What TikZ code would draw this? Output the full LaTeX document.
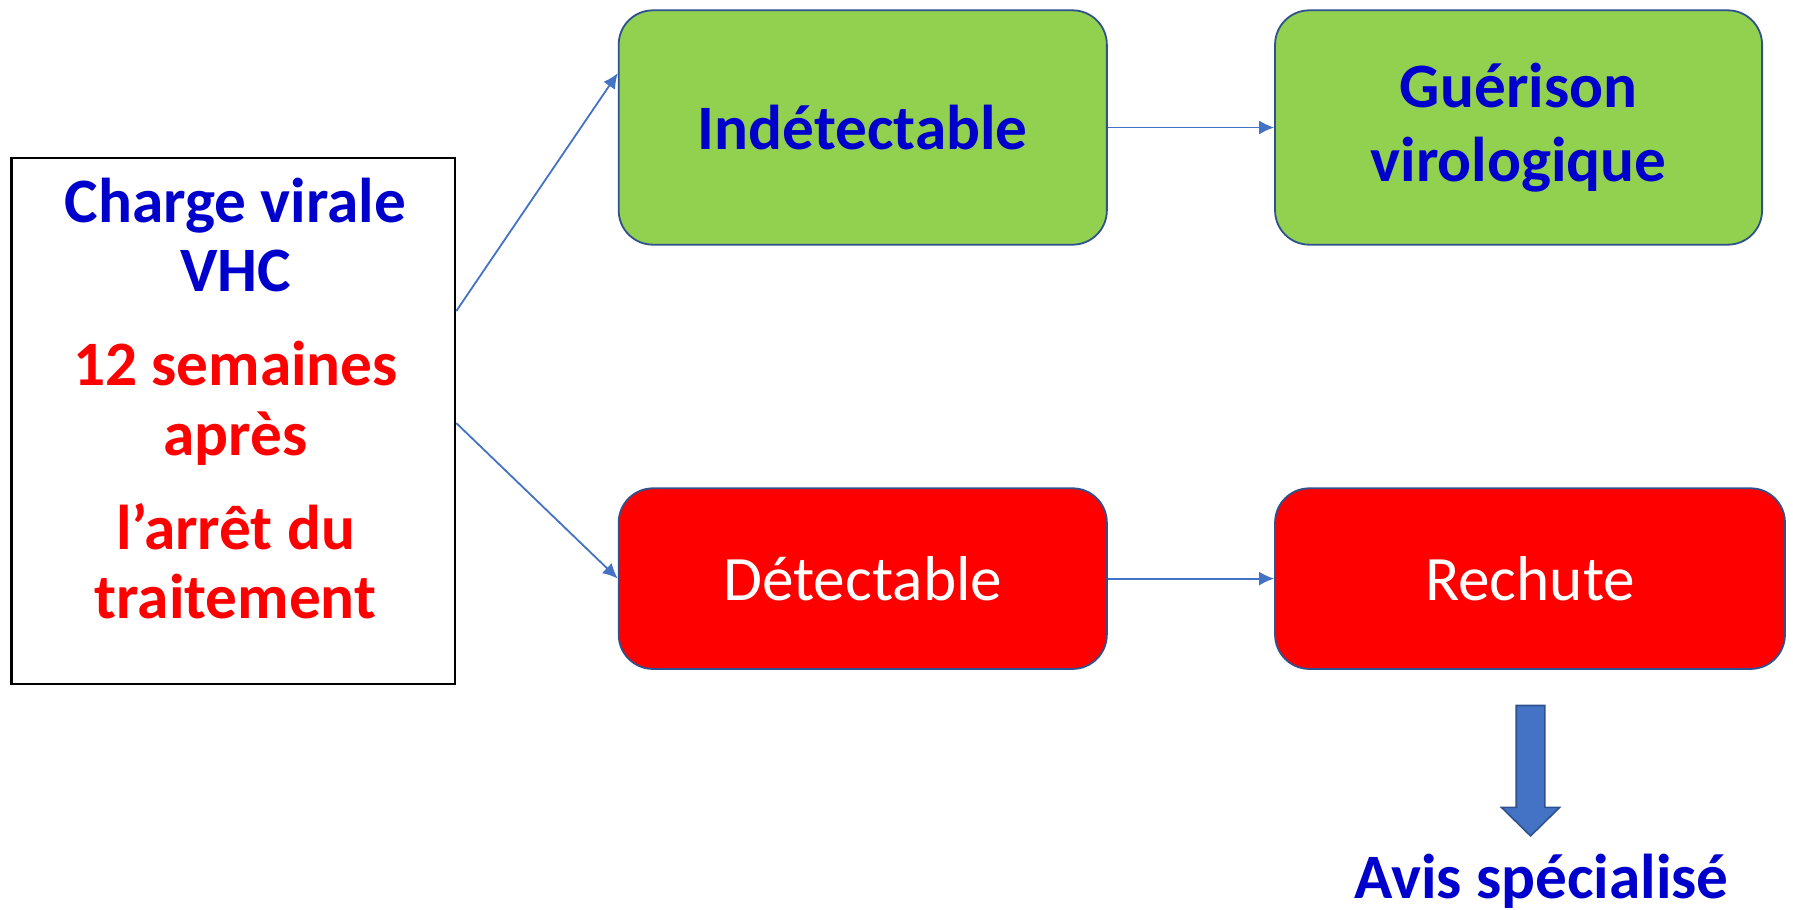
\documentclass[tikz,border=0pt]{standalone}
\usepackage{fontspec}
\setmainfont{Carlito}
\usepackage{xcolor}
\usetikzlibrary{positioning, arrows.meta}
\definecolor{vert}{HTML}{92D050}
\definecolor{rouge}{HTML}{FF0000}
\definecolor{bleutexte}{HTML}{0000CC}
\definecolor{bleufleche}{HTML}{4472C4}
\definecolor{bord}{HTML}{2F528F}

\begin{document}
\begin{tikzpicture}[x=0.02cm, y=-0.02cm,
  etat/.style={draw=bord, line width=0.9pt, rounded corners=0.6cm, align=center, inner sep=0pt},
  lien/.style={-{Latex[length=7.5pt,width=7pt]}, draw=bleufleche, line width=0.9pt},
  gras/.style={font=\fontsize{31.5}{36}\selectfont\bfseries, text=bleutexte}]
\useasboundingbox (0, 0) rectangle (1568, 795);
% boite de gauche
\node [draw, line width=1.2pt, minimum width=7.76cm, minimum height=9.2cm] (charge) at (204, 368) {};
\node [anchor=north, align=center, inner sep=0pt, font=\fontsize{31.5}{34.5}\selectfont\bfseries] (chargetxt) at (206, 155)
  {\textcolor{bleutexte}{Charge virale}\\\textcolor{bleutexte}{VHC}\\[0.44cm]
   \textcolor{rouge}{12 semaines}\\\textcolor{rouge}{après}\\[0.44cm]
   \textcolor{rouge}{l’arrêt du}\\\textcolor{rouge}{traitement}};
% etats
\node [etat, fill=vert, gras, minimum width=8.54cm, minimum height=4.1cm] (indet) at (754.5, 111.5) {Indétectable};
\node [etat, fill=vert, gras, minimum width=8.52cm, minimum height=4.1cm, font=\fontsize{31.5}{37}\selectfont\bfseries] (guer) at (1328, 111.5) {Guérison\\virologique};
\node [etat, fill=rouge, text=white, font=\fontsize{31.5}{36}\selectfont, minimum width=8.54cm, minimum height=3.16cm] (detect) at (754.5, 506) {Détectable};
\node [etat, fill=rouge, text=white, font=\fontsize{31.5}{36}\selectfont, minimum width=8.92cm, minimum height=3.16cm] (rechute) at (1338, 506) {Rechute};
\node [gras, anchor=base, inner sep=0pt] (avis) at (1348, 786) {Avis spécialisé};
% fleches
\draw [lien] ([yshift=1.92cm]charge.east) -- ([yshift=0.95cm]indet.west);
\draw [lien] ([yshift=-0.04cm]charge.east) -- (detect.west);
\draw [lien] (indet.east) -- (guer.west);
\draw [lien] (detect.east) -- (rechute.west);
\filldraw [fill=bleufleche, draw=bord, line width=0.8pt] (1326, 617) -- (1351, 617) -- (1351, 706) -- (1364, 706) -- (1338.5, 731) -- (1313, 706) -- (1326, 706) -- cycle;
\end{tikzpicture}
\end{document}
